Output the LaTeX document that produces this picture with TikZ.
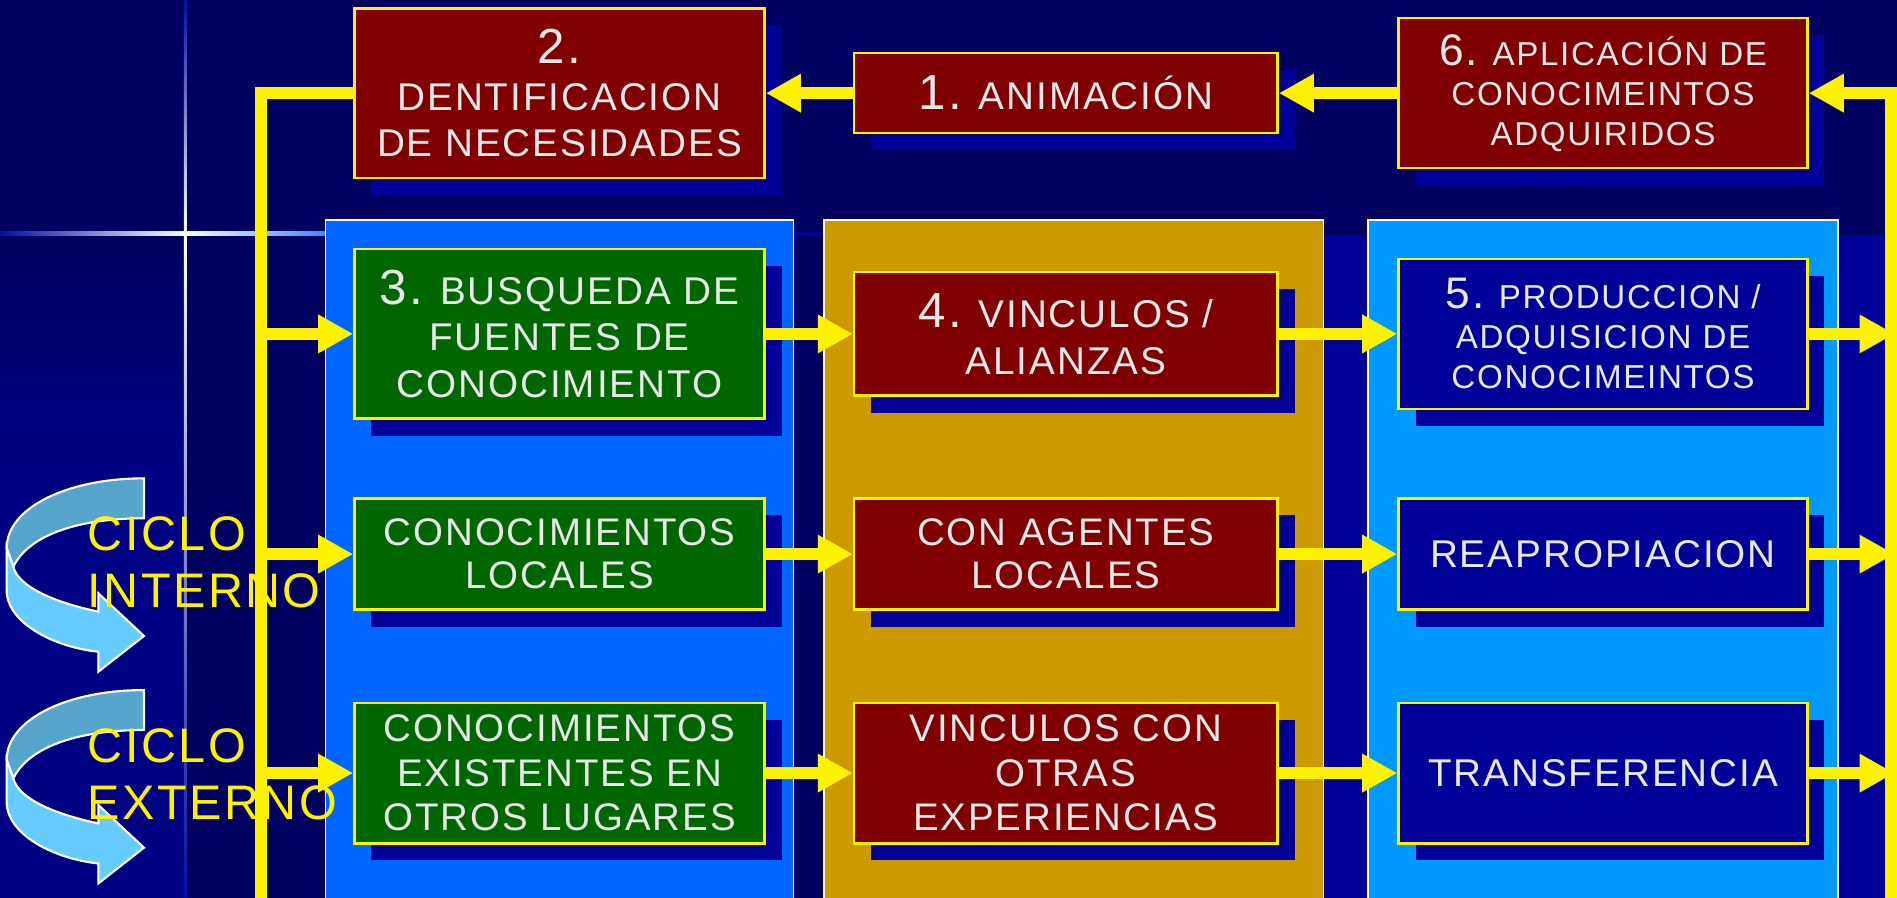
\documentclass[tikz,border=0pt]{standalone}
\usepackage{fontspec}
\setmainfont{Liberation Sans}[LetterSpace=5]
\usepackage{xcolor}
\usepackage{tikz}
\usetikzlibrary{arrows.meta,shadows}

\definecolor{slidebg}{HTML}{000060}
\definecolor{leftbg}{HTML}{000082}
\definecolor{shadowblue}{HTML}{000099}
\definecolor{boxred}{HTML}{800000}
\definecolor{boxgreen}{HTML}{006600}
\definecolor{boxnavy}{HTML}{000099}
\definecolor{panelblue}{HTML}{0066FF}
\definecolor{panelgold}{HTML}{CC9900}
\definecolor{panelsky}{HTML}{0099FF}
\definecolor{cycdark}{HTML}{55A5CC}
\definecolor{cyclight}{HTML}{66CCFF}
\definecolor{boxtext}{HTML}{E8E8E8}
\definecolor{glowblue}{HTML}{0060F0}
\definecolor{glowdark}{HTML}{0010A0}

\newcommand{\bignum}[1]{{\fontsize{11.6}{11.6}\selectfont #1}}
\newcommand{\midnum}[1]{{\fontsize{10.4}{10.4}\selectfont #1}}

\tikzset{
  stepbox/.style={draw=yellow, line width=0.6pt, text=boxtext, align=center, inner sep=0pt,
    font=\fontsize{9.1}{11}\selectfont,
    drop shadow={shadow xshift=1.4mm, shadow yshift=-1.4mm, fill=shadowblue, opacity=1}},
  redbox/.style={stepbox, fill=boxred},
  greenbox/.style={stepbox, fill=boxgreen},
  navybox/.style={stepbox, fill=boxnavy},
  smallbox/.style={font=\fontsize{7.8}{9.4}\selectfont},
  rowtwo/.style={font=\fontsize{9.05}{10.1}\selectfont},
  rowthree/.style={font=\fontsize{9.05}{10.5}\selectfont},
  onelinebox/.style={font=\fontsize{9.1}{10}\selectfont},
  yline/.style={draw=yellow, line width=1mm},
  yarrow/.style={yline, -{Triangle[length=2.9mm, width=3mm]}},
  cycarrow/.style={draw=white, line width=0.5pt},
  cyctext/.style={text=yellow, align=left, inner sep=0pt, font=\fontsize{11.4}{13.4}\selectfont},
}

\begin{document}
\begin{tikzpicture}[x=0.1mm, y=-0.1mm]
\useasboundingbox (0,0) rectangle (1568,742);
\clip (0,0) rectangle (1568,742);

% background of the slide
\fill[slidebg] (0,0) rectangle (1568,742);
\shade[top color=slidebg, bottom color=leftbg] (0,195) rectangle (153,380);
\fill[leftbg] (0,380) rectangle (153,742);
\fill[shadowblue] (1000,194) rectangle (1568,742);

% star
\shade[left color=glowdark, right color=white] (0,191.5) rectangle (153,195);
\shade[left color=white, right color=glowblue] (153,191.5) rectangle (306,195);
\fill[glowblue] (306,191.5) rectangle (650,195);
\fill[shadowblue] (650,191.5) rectangle (1000,195);
\shade[top color=glowdark, bottom color=white] (152,0) rectangle (154.5,193);
\shade[top color=white, bottom color=glowdark] (152,193) rectangle (154.5,742);

% panels
\filldraw[draw=white, line width=0.4pt, fill=panelblue] (269,182) rectangle (656,760);
\filldraw[draw=white, line width=0.4pt, fill=panelgold] (681,182) rectangle (1094,760);
\filldraw[draw=white, line width=0.4pt, fill=panelsky] (1131,182) rectangle (1519,760);

% top row
\node[redbox, minimum width=33.9mm, minimum height=14mm] (ident) at (462.5,77) {\bignum{2.}\\DENTIFICACION\\DE NECESIDADES};
\node[redbox, minimum width=35mm, minimum height=6.6mm] (anim) at (881,77) {\bignum{1.} ANIMACIÓN};
\node[redbox, smallbox, minimum width=33.8mm, minimum height=12.4mm] (aplic) at (1325,77) {\midnum{6.} APLICACIÓN DE\\CONOCIMEINTOS\\ADQUIRIDOS};

% first row
\node[greenbox, minimum width=33.9mm, minimum height=14mm] (busq) at (462.5,276) {\bignum{3.} BUSQUEDA DE\\FUENTES DE\\CONOCIMIENTO};
\node[redbox, minimum width=35mm, minimum height=10.2mm] (vinc) at (881,276) {\bignum{4.} VINCULOS /\\ALIANZAS};
\node[navybox, smallbox, minimum width=33.8mm, minimum height=12.4mm] (prod) at (1325,276) {\midnum{5.} PRODUCCION /\\ADQUISICION DE\\CONOCIMEINTOS};

% second row
\node[greenbox, rowtwo, minimum width=33.9mm, minimum height=9.2mm] (cloc) at (462.5,458) {CONOCIMIENTOS\\LOCALES};
\node[redbox, rowtwo, minimum width=35mm, minimum height=9.2mm] (agen) at (881,458) {CON AGENTES\\LOCALES};
\node[navybox, onelinebox, minimum width=33.8mm, minimum height=9.2mm] (reap) at (1325,458) {REAPROPIACION};

% third row
\node[greenbox, rowthree, minimum width=33.9mm, minimum height=11.6mm] (cext) at (462.5,639) {CONOCIMIENTOS\\EXISTENTES EN\\OTROS LUGARES};
\node[redbox, rowthree, minimum width=35mm, minimum height=11.6mm] (vexp) at (881,639) {VINCULOS CON\\OTRAS\\EXPERIENCIAS};
\node[navybox, onelinebox, minimum width=33.8mm, minimum height=11.6mm] (trans) at (1325,639) {TRANSFERENCIA};

% yellow connectors
\coordinate (lspine) at (216,0);
\coordinate (rspine) at (1566,0);
\coordinate (lbot) at (216,760);
\coordinate (rbot) at (1563,760);
\draw[yline] (ident.west) -| (lbot);
\draw[yarrow] (anim) -- (ident);
\draw[yarrow] (aplic) -- (anim);
\draw[yarrow] (rbot) |- (aplic.east);

\draw[yarrow] (busq -| lspine) -- (busq);
\draw[yarrow] (busq) -- (vinc);
\draw[yarrow] (vinc) -- (prod);
\draw[yarrow] (prod) -- (prod -| rspine);

\draw[yarrow] (cloc -| lspine) -- (cloc);
\draw[yarrow] (cloc) -- (agen);
\draw[yarrow] (agen) -- (reap);
\draw[yarrow] (reap) -- (reap -| rspine);

\draw[yarrow] (cext -| lspine) -- (cext);
\draw[yarrow] (cext) -- (vexp);
\draw[yarrow] (vexp) -- (trans);
\draw[yarrow] (trans) -- (trans -| rspine);

% cycle arrows
\filldraw[cycarrow, fill=cycdark] (119,395.4) .. controls (55,395.4) and (5.5,420) .. (5.5,453.2)
  -- (11,468.4) .. controls (25,440) and (70,428.4) .. (119,428.4) -- cycle;
\filldraw[cycarrow, fill=cyclight] (5.5,453.2) -- (5.5,487.7) .. controls (5.5,515) and (45,535) .. (81.3,538.7)
  -- (81.3,555.2) -- (119,525.7) -- (81.3,490.4) -- (81.3,505.6)
  .. controls (45,498) and (15,485) .. (11,468.4) -- cycle;
\begin{scope}[shift={(0,175)}]
\filldraw[cycarrow, fill=cycdark] (119,395.4) .. controls (55,395.4) and (5.5,420) .. (5.5,453.2)
  -- (11,468.4) .. controls (25,440) and (70,428.4) .. (119,428.4) -- cycle;
\filldraw[cycarrow, fill=cyclight] (5.5,453.2) -- (5.5,487.7) .. controls (5.5,515) and (45,535) .. (81.3,538.7)
  -- (81.3,555.2) -- (119,525.7) -- (81.3,490.4) -- (81.3,505.6)
  .. controls (45,498) and (15,485) .. (11,468.4) -- cycle;
\end{scope}

\node[cyctext, anchor=base west] (cint) at (72,502) {CICLO\\INTERNO};
\node[cyctext, anchor=base west] (cext2) at (72,677) {CICLO\\EXTERNO};
\end{tikzpicture}
\end{document}
